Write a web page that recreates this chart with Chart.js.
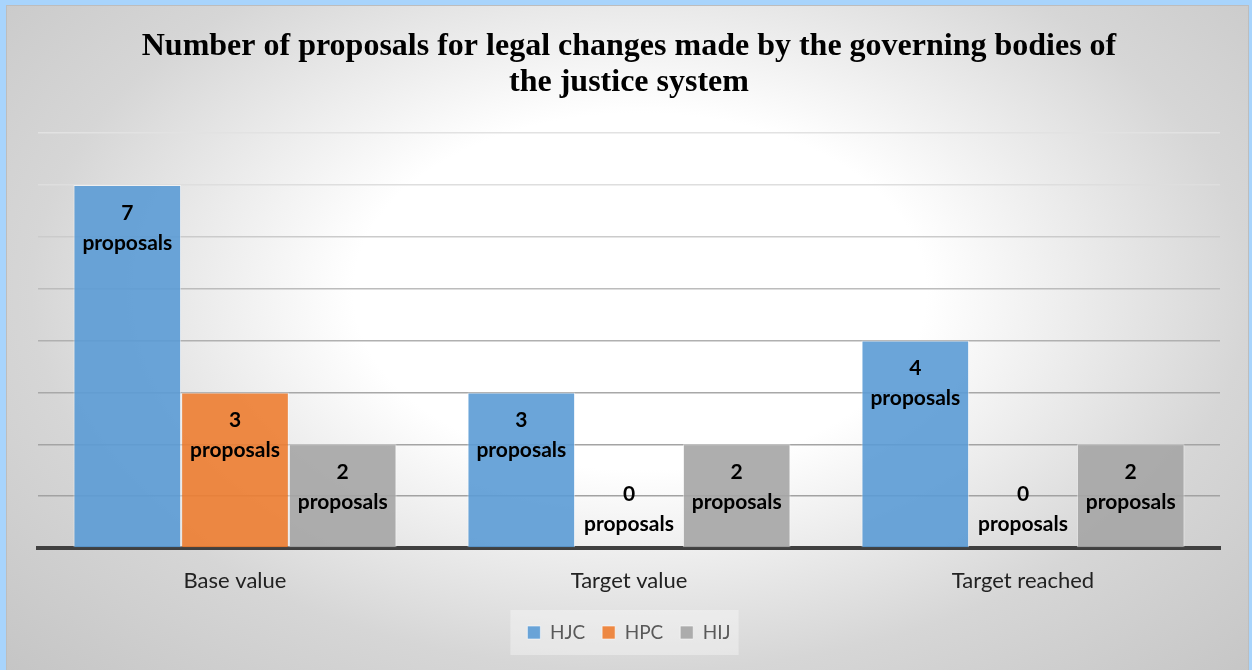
<!DOCTYPE html>
<html>
<head>
<meta charset="utf-8">
<script src="https://cdn.jsdelivr.net/npm/chart.js@4.4.1/dist/chart.umd.min.js"></script>
<style>
  html, body { margin: 0; padding: 0; background: #a8d4fc; }
  #wrap { position: relative; width: 1252px; height: 670px; overflow: hidden; }
  #panel {
    position: absolute; left: 6px; top: 5px; width: 1241px; height: 680px;
    border: 1px solid #bdbdbd;
    background: radial-gradient(ellipse at 51% 42%, #ffffff 0%, #ffffff 32%, #d6d6d6 68%, #c4c4c4 100%);
  }
  #chart { position: absolute; left: 0; top: 0; }
</style>
</head>
<body>
<div id="wrap">
  <div id="panel"></div>
  <canvas id="chart" width="1252" height="670"></canvas>
</div>
<script>
const categories = ['Base value', 'Target value', 'Target reached'];
const hjc = [7, 3, 4];
const hpc = [3, 0, 0];
const hij = [2, 2, 2];
const seriesNames = ['HJC', 'HPC', 'HIJ'];
const unit = 'proposals';
const titleLines = [
  'Number of proposals for legal changes made by the governing bodies of',
  'the justice system'
];

const labelFont = 'Lato, "Open Sans", sans-serif';

// grid lines fade out towards the top (white centre of the gradient)
const gridColors = { 8: '#e2e2e2', 7: '#dedede', 6: '#cbcbcb', 5: '#bcbcbc', 4: '#b0b0b0', 3: '#a8a8a8', 2: '#a4a4a4', 1: '#a2a2a2' };

const barLabels = {
  id: 'barLabels',
  afterDatasetsDraw(chart) {
    const ctx = chart.ctx;
    ctx.save();
    ctx.fillStyle = '#000';
    ctx.font = 'bold 21px ' + labelFont;
    ctx.textAlign = 'center';
    ctx.textBaseline = 'middle';
    chart.data.datasets.forEach((ds, i) => {
      chart.getDatasetMeta(i).data.forEach((bar, j) => {
        const v = ds.data[j];
        const y = v > 0 ? bar.y + 28 : bar.base - 54;
        ctx.fillText(String(v), bar.x, y);
        ctx.fillText(unit, bar.x, y + 30);
      });
    });
    ctx.restore();
  }
};

const legendBack = {
  id: 'legendBack',
  beforeDraw(chart) {
    const boxes = chart.legend && chart.legend.legendHitBoxes;
    if (!boxes || !boxes.length) return;
    const first = boxes[0], last = boxes[boxes.length - 1];
    const ctx = chart.ctx;
    ctx.save();
    ctx.fillStyle = 'rgba(255,255,255,0.35)';
    ctx.fillRect(first.left - 17, first.top - 13, last.left + last.width - first.left + 25, first.height + 26);
    ctx.restore();
  }
};

new Chart(document.getElementById('chart'), {
  type: 'bar',
  data: {
    labels: categories,
    datasets: [
      { label: seriesNames[0], data: hjc, backgroundColor: 'rgba(91,155,213,0.9)' },
      { label: seriesNames[1], data: hpc, backgroundColor: 'rgba(237,125,49,0.9)' },
      { label: seriesNames[2], data: hij, backgroundColor: 'rgba(165,165,165,0.9)' }
    ].map(d => Object.assign(d, {
      borderColor: 'rgba(255,255,255,0.55)',
      borderWidth: 1,
      categoryPercentage: 0.82,
      barPercentage: 1
    }))
  },
  options: {
    responsive: false,
    animation: false,
    layout: { padding: { left: 38, right: 32, top: 0, bottom: 18 } },
    scales: {
      x: {
        grid: { display: false },
        border: { display: true, color: '#404040', width: 4 },
        ticks: { color: '#222', font: { family: labelFont, size: 22 }, padding: 12 },
        afterFit: s => { s.height = 58; }
      },
      y: {
        min: 0, max: 8,
        ticks: { display: false, stepSize: 1 },
        border: { display: false },
        grid: {
          drawTicks: false,
          color: c => gridColors[c.tick.value] || 'rgba(0,0,0,0)',
          lineWidth: 1.5
        }
      }
    },
    plugins: {
      title: {
        display: true,
        text: titleLines,
        color: '#000',
        font: { family: '"Liberation Serif", "Times New Roman", serif', size: 32, weight: 'bold', lineHeight: 1.125 },
        padding: { top: 29, bottom: 32 }
      },
      legend: {
        position: 'bottom',
        labels: {
          color: '#595959',
          font: { family: labelFont, size: 19 },
          boxWidth: 13, boxHeight: 13,
          padding: 17
        }
      },
      tooltip: { enabled: false }
    }
  },
  plugins: [barLabels, legendBack]
});
</script>
</body>
</html>
